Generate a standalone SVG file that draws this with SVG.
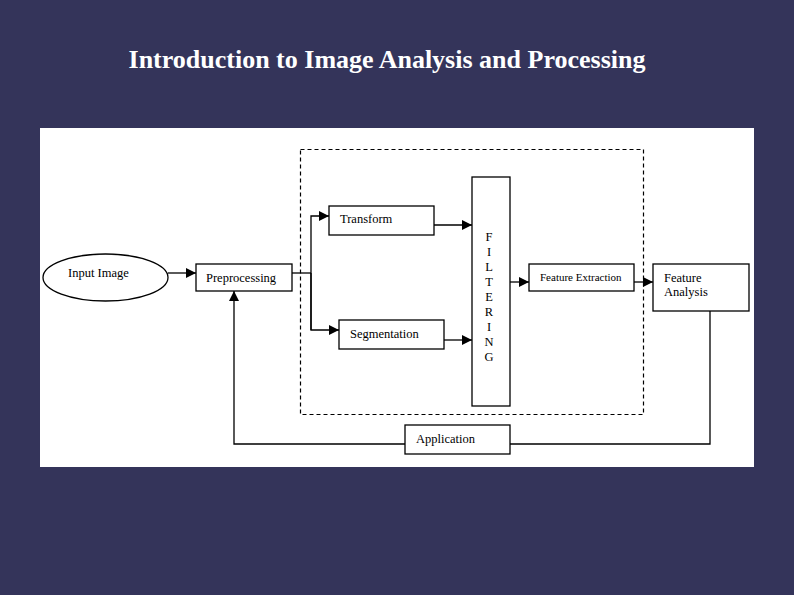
<svg xmlns="http://www.w3.org/2000/svg" width="794" height="595" viewBox="0 0 794 595">
<style>
.box{fill:#fff;stroke:#000;stroke-width:1.3}
.t{font-family:"Liberation Serif","Times New Roman",serif;font-size:12.5px;fill:#000}
.s{font-size:11px}
.ln{fill:none;stroke:#000;stroke-width:1.3}
</style>
<defs>
<marker id="ah" viewBox="0 0 10 10" refX="10" refY="5" markerWidth="10" markerHeight="10" markerUnits="userSpaceOnUse" orient="auto">
<path d="M0,0 L10,5 L0,10 Z" fill="#000"/>
</marker>
</defs>
<rect x="0" y="0" width="794" height="595" fill="#34345a"/>
<text x="387" y="68" text-anchor="middle" font-family="Liberation Serif,'Times New Roman',serif" font-weight="bold" font-size="26" fill="#fff">Introduction to Image Analysis and Processing</text>
<rect x="40" y="128" width="714" height="339" fill="#fff"/>
<rect id="filter-region" x="300.5" y="149.5" width="343" height="265" fill="none" stroke="#000" stroke-width="1.2" stroke-dasharray="4,3"/>
<g id="connectors">
<line class="ln" x1="168" y1="273" x2="196" y2="273" marker-end="url(#ah)"/>
<polyline class="ln" points="292,273 311,273"/>
<polyline class="ln" points="311,330 311,216 329,216" marker-end="url(#ah)"/>
<polyline class="ln" points="311,273 311,330 339,330" marker-end="url(#ah)"/>
<line class="ln" x1="434" y1="225" x2="472" y2="225" marker-end="url(#ah)"/>
<line class="ln" x1="444" y1="340" x2="472" y2="340" marker-end="url(#ah)"/>
<line class="ln" x1="510" y1="282" x2="529" y2="282" marker-end="url(#ah)"/>
<line class="ln" x1="634" y1="282" x2="653" y2="282" marker-end="url(#ah)"/>
<polyline class="ln" points="710,311 710,444 510,444"/>
<polyline class="ln" points="405,444 234,444 234,291" marker-end="url(#ah)"/>
</g>
<g id="input-image">
<ellipse cx="105.5" cy="277.5" rx="62.5" ry="23.5" fill="#fff" stroke="#000" stroke-width="1.3"/>
<text class="t" x="68" y="277">Input Image</text>
</g>
<g id="preprocessing">
<rect class="box" x="196" y="264" width="96" height="27"/>
<text class="t" x="206" y="282">Preprocessing</text>
</g>
<g id="transform">
<rect class="box" x="329" y="206" width="105" height="29"/>
<text class="t" x="340" y="223">Transform</text>
</g>
<g id="segmentation">
<rect class="box" x="339" y="320" width="105" height="29"/>
<text class="t" x="350" y="338">Segmentation</text>
</g>
<g id="filtering">
<rect class="box" x="472" y="177" width="38" height="229"/>
<text class="t" text-anchor="middle">
<tspan x="489" y="241">F</tspan><tspan x="489" y="256">I</tspan><tspan x="489" y="271">L</tspan><tspan x="489" y="286">T</tspan><tspan x="489" y="301">E</tspan><tspan x="489" y="316">R</tspan><tspan x="489" y="331">I</tspan><tspan x="489" y="346">N</tspan><tspan x="489" y="361">G</tspan>
</text>
</g>
<g id="feature-extraction">
<rect class="box" x="529" y="264" width="105" height="27"/>
<text class="t s" x="540" y="281">Feature Extraction</text>
</g>
<g id="feature-analysis">
<rect class="box" x="653" y="264" width="96" height="47"/>
<text class="t" x="664" y="282">Feature</text>
<text class="t" x="664" y="296">Analysis</text>
</g>
<g id="application">
<rect class="box" x="405" y="425" width="105" height="29"/>
<text class="t" x="416" y="443">Application</text>
</g>
</svg>
